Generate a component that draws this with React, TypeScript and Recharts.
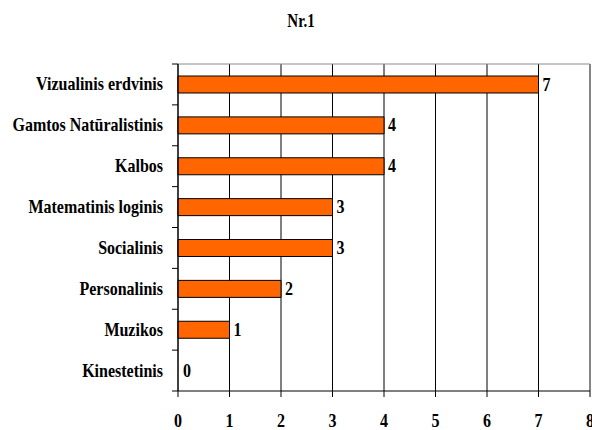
import { BarChart, Bar, XAxis, YAxis, CartesianGrid, ReferenceLine, LabelList, Cell } from "recharts";

const categories = [
  "Vizualinis erdvinis",
  "Gamtos Natūralistinis",
  "Kalbos",
  "Matematinis loginis",
  "Socialinis",
  "Personalinis",
  "Muzikos",
  "Kinestetinis",
];
const counts = [7, 4, 4, 3, 3, 2, 1, 0];
const xTicks = [0, 1, 2, 3, 4, 5, 6, 7, 8];

const data = categories.map((name, i) => ({ name, value: counts[i] }));

// layout
const W = 592;
const H = 430;
const TOP = 64;
const BOTTOM = 391;
const LEFT = 178;
const X_AXIS_H = 30;
const BAND = (BOTTOM - TOP) / categories.length;
const FONT = '"Liberation Serif", "Times New Roman", serif';
const STRETCH = 1.2;

const YTick = ({ y, payload, index }: any) => (
  <g>
    <line x1={LEFT - 6} x2={LEFT} y1={y - BAND / 2} y2={y - BAND / 2} stroke="#000" />
    {index === categories.length - 1 && (
      <line x1={LEFT - 6} x2={LEFT} y1={y + BAND / 2} y2={y + BAND / 2} stroke="#000" />
    )}
    <g transform={`translate(${LEFT - 15},${y}) scale(1,${STRETCH})`}>
      <text x={0} y={5} textAnchor="end" fontFamily={FONT} fontWeight="bold" fontSize={16} fill="#000">
        {payload.value}
      </text>
    </g>
  </g>
);

const XTick = ({ x, payload }: any) => (
  <g transform={`translate(${x},${BOTTOM}) scale(1,${STRETCH})`}>
    <text x={0} y={30} textAnchor="middle" fontFamily={FONT} fontWeight="bold" fontSize={16} fill="#000">
      {payload.value}
    </text>
  </g>
);

const ValueLabel = ({ x, y, width, height, value }: any) => (
  <g transform={`translate(${x + width + 4},${y + height / 2}) scale(1,${STRETCH})`}>
    <text x={0} y={5} textAnchor="start" fontFamily={FONT} fontWeight="bold" fontSize={16} fill="#000">
      {value}
    </text>
  </g>
);

export default function App() {
  return (
    <div style={{ position: "absolute", left: 0, top: 0, width: W, height: H, background: "#fff" }}>
      <div
        style={{
          position: "absolute",
          left: 0,
          width: W,
          top: 13,
          textAlign: "center",
          fontFamily: FONT,
          fontWeight: "bold",
          fontSize: 15,
          paddingLeft: 10,
          boxSizing: "border-box",
          transform: `scaleY(${STRETCH})`,
        }}
      >
        Nr.1
      </div>
      <BarChart
        width={W}
        height={H}
        data={data}
        layout="vertical"
        margin={{ top: TOP, right: W - 590, bottom: H - BOTTOM - X_AXIS_H, left: 8 }}
        barSize={17}
      >
        <CartesianGrid horizontal={false} stroke="#000" />
        <CartesianGrid
          vertical={false}
          stroke="#8c8c8c"
          horizontalCoordinatesGenerator={({ offset }: any) => [offset.top]}
        />
        <ReferenceLine x={8} stroke="#8c8c8c" />
        <XAxis
          type="number"
          domain={[0, 8]}
          ticks={xTicks}
          interval={0}
          stroke="#000"
          tickSize={6}
          height={X_AXIS_H}
          tick={<XTick />}
        />
        <YAxis
          type="category"
          dataKey="name"
          width={170}
          stroke="#000"
          tickLine={false}
          interval={0}
          tick={<YTick />}
        />
        <Bar
          dataKey="value"
          fill="#ff6600"
          stroke="#000"
          strokeWidth={1}
          minPointSize={1}
          isAnimationActive={false}
        >
          {data.map((d) => (
            <Cell
              key={d.name}
              fill={d.value === 0 ? "none" : "#ff6600"}
              stroke={d.value === 0 ? "none" : "#000"}
            />
          ))}
          <LabelList dataKey="value" content={<ValueLabel />} />
        </Bar>
      </BarChart>
    </div>
  );
}
